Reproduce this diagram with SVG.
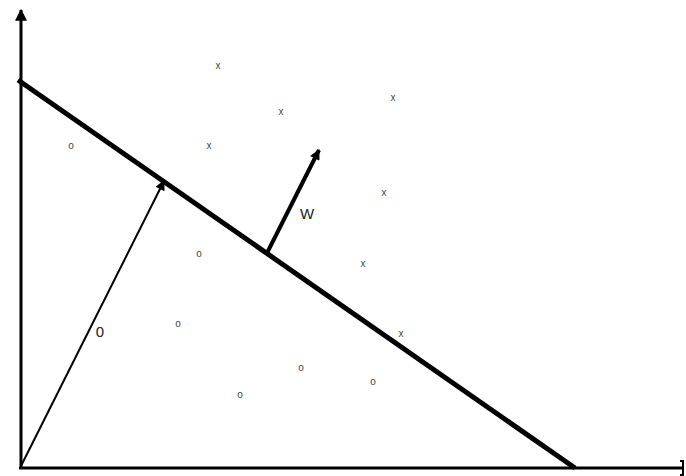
<svg xmlns="http://www.w3.org/2000/svg" width="686" height="476" viewBox="0 0 686 476">
<style>
.pt{font-family:"Liberation Sans",Arial,sans-serif;font-size:10px;fill:#444;text-anchor:middle}
.lbl{font-family:"Liberation Sans",Arial,sans-serif;font-size:15px;fill:#222;text-anchor:middle}
.ax{stroke:#000;stroke-width:3;fill:none}
</style>
<defs>
<marker id="ahw" viewBox="0 0 10 10" refX="9" refY="5" markerWidth="5" markerHeight="2.6" orient="auto" markerUnits="strokeWidth">
<path d="M0,0 L10,5 L0,10 z" fill="#000"/>
</marker>
<marker id="ahy" viewBox="0 0 10 10" refX="9" refY="5" markerWidth="7" markerHeight="4" orient="auto" markerUnits="strokeWidth">
<path d="M0,0 L10,5 L0,10 z" fill="#000"/>
</marker>
<marker id="aht" viewBox="0 0 10 10" refX="9" refY="5" markerWidth="8" markerHeight="5" orient="auto" markerUnits="strokeWidth">
<path d="M0,0 L10,5 L0,10 z" fill="#000"/>
</marker>
</defs>
<rect width="686" height="476" fill="#fff"/>
<g id="connectors">
<line class="ax" x1="21" y1="468" x2="21" y2="10" marker-end="url(#ahy)"/>
<line class="ax" x1="19" y1="468" x2="683" y2="468"/>
<path d="M680,461 L683,461 L683,475 L680,475" stroke="#000" stroke-width="2" fill="none"/>
<line x1="18" y1="80" x2="575" y2="468" stroke="#000" stroke-width="5"/>
<line x1="267" y1="253" x2="319" y2="150" stroke="#000" stroke-width="4" marker-end="url(#ahw)"/>
<line x1="21" y1="466" x2="164" y2="181" stroke="#000" stroke-width="2" marker-end="url(#aht)"/>
</g>
<g id="label-w"><text class="lbl" x="307" y="219">W</text></g>
<g id="label-0"><text class="lbl" x="100" y="337">0</text></g>
<g id="points-x">
<text class="pt" x="218" y="69">x</text>
<text class="pt" x="281" y="115">x</text>
<text class="pt" x="393" y="101">x</text>
<text class="pt" x="209" y="149">x</text>
<text class="pt" x="384" y="196">x</text>
<text class="pt" x="363" y="267">x</text>
<text class="pt" x="401" y="337">x</text>
</g>
<g id="points-o">
<text class="pt" x="71" y="149">o</text>
<text class="pt" x="199" y="257">o</text>
<text class="pt" x="178" y="327">o</text>
<text class="pt" x="301" y="371">o</text>
<text class="pt" x="373" y="385">o</text>
<text class="pt" x="240" y="398">o</text>
</g>
</svg>
